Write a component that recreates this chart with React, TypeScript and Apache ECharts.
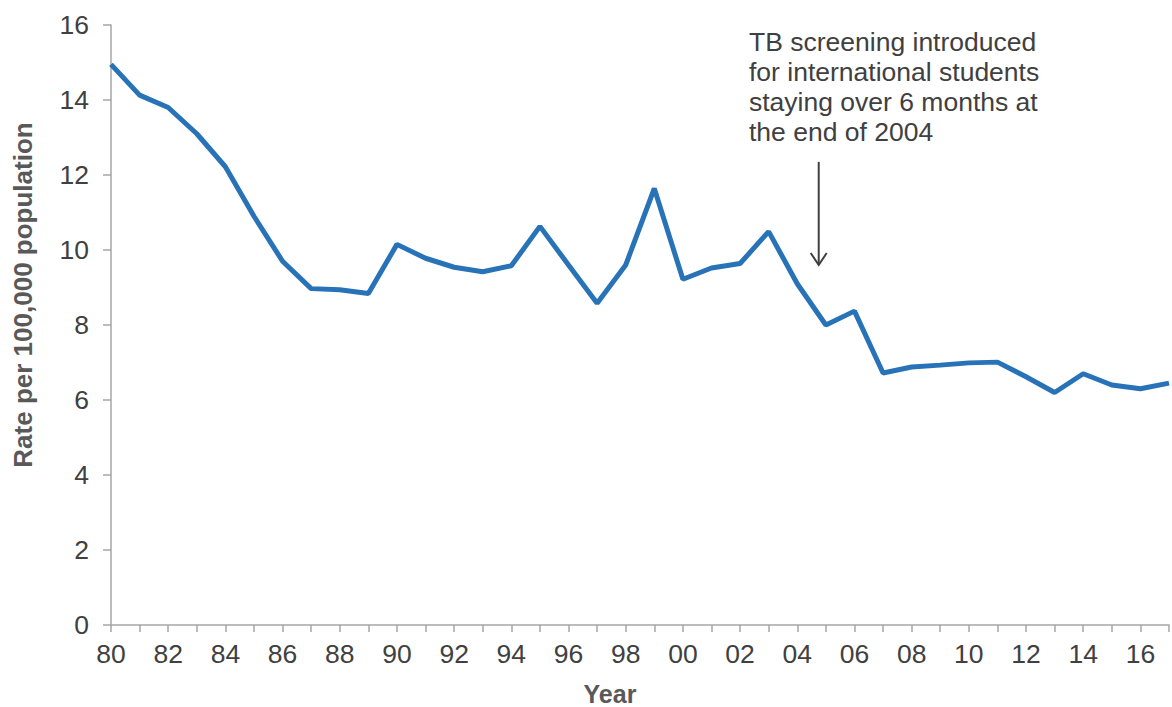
import React, { useEffect, useRef } from "react";
import * as echarts from "echarts";

const years = [
  1980, 1981, 1982, 1983, 1984, 1985, 1986, 1987, 1988, 1989,
  1990, 1991, 1992, 1993, 1994, 1995, 1996, 1997, 1998, 1999,
  2000, 2001, 2002, 2003, 2004, 2005, 2006, 2007, 2008, 2009,
  2010, 2011, 2012, 2013, 2014, 2015, 2016, 2017,
];
const rates = [
  14.95, 14.13, 13.8, 13.1, 12.22, 10.9, 9.7, 8.97, 8.94, 8.84,
  10.15, 9.78, 9.54, 9.42, 9.58, 10.63, 9.6, 8.58, 9.6, 11.64,
  9.22, 9.52, 9.64, 10.49, 9.1, 8.0, 8.37, 6.72, 6.88, 6.93,
  6.99, 7.01, 6.62, 6.2, 6.7, 6.4, 6.3, 6.45,
];
const annotationLines = [
  "TB screening introduced",
  "for international students",
  "staying over 6 months at",
  "the end of 2004",
];
const annotationYear = 2004.75;
const arrowTopValue = 12.35;
const arrowBottomValue = 9.6;
const yTitle = "Rate per 100,000 population";
const xTitle = "Year";

const FONT = '"Liberation Sans", Arial, sans-serif';

export default function App() {
  const ref = useRef<HTMLDivElement>(null);
  useEffect(() => {
    const chart = echarts.init(ref.current!, null, { renderer: "svg" });
    chart.setOption({
      animation: false,
      grid: { left: 111, right: 0, top: 25, bottom: 82, containLabel: false },
      xAxis: {
        type: "value",
        min: 1980,
        max: 2017,
        interval: 1,
        axisLine: { show: true, lineStyle: { color: "#a6a6a6", width: 1.5 } },
        axisTick: { show: true, length: 7, lineStyle: { color: "#a6a6a6", width: 1.5 } },
        splitLine: { show: false },
        axisLabel: {
          margin: 15,
          fontSize: 26.5,
          fontFamily: FONT,
          color: "#404040",
          formatter: (v: number) => (v % 2 === 0 ? String(v).slice(2) : ""),
        },
      },
      yAxis: {
        type: "value",
        min: 0,
        max: 16,
        interval: 2,
        axisLine: { show: true, lineStyle: { color: "#a6a6a6", width: 1.5 } },
        axisTick: { show: true, length: 8, lineStyle: { color: "#a6a6a6", width: 1.5 } },
        splitLine: { show: false },
        axisLabel: { margin: 22, fontSize: 26.5, fontFamily: FONT, color: "#404040" },
      },
      series: [
        {
          type: "line",
          data: years.map((y, i) => [y, rates[i]]),
          showSymbol: false,
          symbol: "none",
          lineStyle: { color: "#2873b8", width: 5 },
          clip: false,
        },
      ],
    });
    const top = chart.convertToPixel({ gridIndex: 0 }, [annotationYear, arrowTopValue]) as number[];
    const bot = chart.convertToPixel({ gridIndex: 0 }, [annotationYear, arrowBottomValue]) as number[];
    chart.setOption({
      graphic: [
        {
          type: "line",
          shape: { x1: top[0], y1: top[1], x2: bot[0], y2: bot[1] },
          style: { stroke: "#404040", lineWidth: 2 },
        },
        {
          type: "polyline",
          shape: { points: [[bot[0] - 8, bot[1] - 12], [bot[0], bot[1]], [bot[0] + 8, bot[1] - 12]] },
          style: { stroke: "#404040", lineWidth: 2, fill: "none" },
        },
        {
          type: "text",
          x: 749,
          y: 27,
          style: {
            text: annotationLines.join("\n"),
            font: `26.5px ${FONT}`,
            lineHeight: 30,
            fill: "#404040",
            textVerticalAlign: "top",
          },
        },
        {
          type: "text",
          x: 23,
          y: 295,
          rotation: Math.PI / 2,
          style: {
            text: yTitle,
            font: `bold 26px ${FONT}`,
            fill: "#595959",
            textAlign: "center",
            textVerticalAlign: "middle",
          },
        },
        {
          type: "text",
          x: 610,
          y: 694,
          style: {
            text: xTitle,
            font: `bold 25px ${FONT}`,
            fill: "#595959",
            textAlign: "center",
            textVerticalAlign: "middle",
          },
        },
      ],
    });
    return () => chart.dispose();
  }, []);
  return (
    <div
      ref={ref}
      style={{ position: "absolute", left: 0, top: 0, width: 1172, height: 707 }}
    />
  );
}
